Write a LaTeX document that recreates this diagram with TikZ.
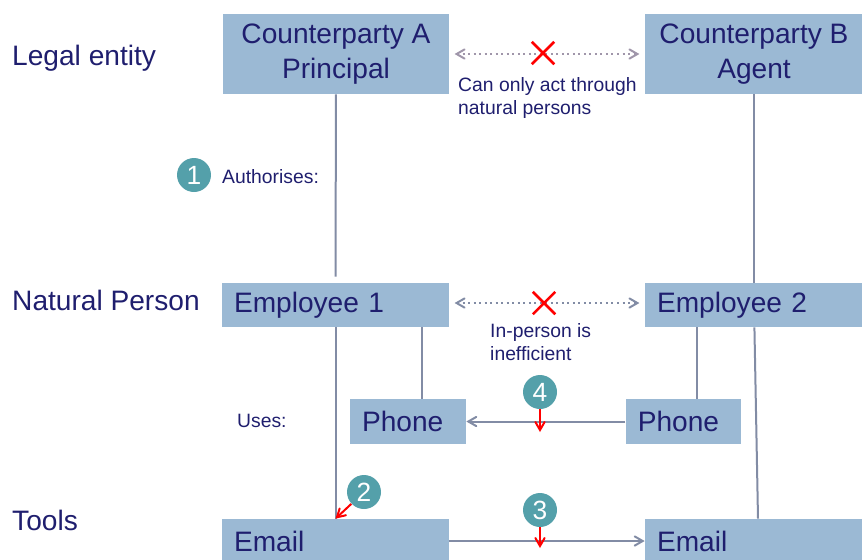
\documentclass[tikz,border=0pt]{standalone}
\usepackage{fontspec}
\setmainfont{Liberation Sans}
\usetikzlibrary{arrows,shapes,shapes.misc}

\definecolor{inkblue}{RGB}{31,30,110}
\definecolor{boxblue}{RGB}{155,185,212}
\definecolor{wire}{RGB}{130,140,165}
\definecolor{haze}{RGB}{160,150,170}
\definecolor{stepteal}{RGB}{84,160,170}

\begin{document}
\begin{tikzpicture}[>=angle 60,x=0.02cm,y=-0.02cm]

  \tikzstyle{party}=[rectangle,fill=boxblue,text=inkblue,inner sep=0,
    font=\fontsize{16}{19.5}\selectfont,align=center,
    minimum width=4.52cm,minimum height=1.6cm]

  \tikzstyle{tool}=[rectangle,fill=boxblue,text=inkblue,inner sep=0,
    inner xsep=0.24cm,font=\fontsize{16}{19}\selectfont,align=left,
    text width=4.06cm,minimum height=0.88cm]

  \tikzstyle{tier}=[anchor=west,text=inkblue,font=\fontsize{16}{19}\selectfont]
  \tikzstyle{note}=[text=inkblue,font=\fontsize{11}{13}\selectfont,align=left]

  \tikzstyle{stepnum}=[circle,fill=stepteal,text=white,inner sep=0,
    minimum size=0.68cm,font=\fontsize{15}{17}\selectfont]

  \tikzstyle{nogo}=[cross out,draw=red,line width=0.05cm,inner sep=0,
    minimum size=0.4cm]

  \useasboundingbox (0,0) rectangle (862,559);

  %% \draw [help lines,step=50] (0,0) grid (862,559);

  \node  (a)   at (336,54)   [party]  {Counterparty A\\Principal};
  \node  (b)   at (754,54)   [party,minimum width=4.36cm]
         {Counterparty B\\Agent};

  \node  (e1)  at (335.5,305) [tool]  {Employee 1};
  \node  (e2)  at (754,305)  [tool,text width=3.88cm] {Employee 2};

  \node  (pa)  at (408,421.5) [tool,text width=1.84cm,minimum height=0.9cm] {Phone};
  \node  (pb)  at (683.5,421.5) [tool,text width=1.83cm,minimum height=0.9cm] {Phone};

  \node  (ma)  at (335.5,541) [tool]  {Email};
  \node  (mb)  at (754,541)  [tool,text width=3.88cm] {Email};

  \node  (legal)   at (6,58)  [tier] {Legal entity};
  \node  (natural) at (6,300) [tier] {Natural Person};
  \node  (tools)   at (6,520) [tier] {Tools};

  \node  (auth)  at (216,177) [note,anchor=west] {Authorises:};
  \node  (uses)  at (231,421) [note,anchor=west] {Uses:};
  \node  (only)  at (452,98)  [note,anchor=west] {Can only act through\\natural persons};
  \node  (slow)  at (484,342) [note,anchor=west] {In-person is\\inefficient};

  \tikzstyle{link}=[color=wire,line width=0.04cm]
  \tikzstyle{msg}=[->,color=wire,line width=0.04cm]
  \tikzstyle{blocked}=[<->,line width=0.04cm,dotted]
  \tikzstyle{redmark}=[->,color=red,line width=0.04cm]

  \path (a)   edge [blocked,color=haze,shorten <=3pt,shorten >=3pt] (b)
              edge [link,shorten >=0.12cm] (e1)
        (b)   edge [link] (e2)
        ([yshift=0.04cm]e1.east) edge [blocked,color=wire,shorten <=3pt,shorten >=3pt]
              ([yshift=0.04cm]e2.west)
        (e1)  edge [link] (ma)
        ([xshift=0.27cm]pa.north |- e1.south) edge [link] ([xshift=0.27cm]pa.north)
        ([xshift=0.27cm]pb.north |- e2.south) edge [link] ([xshift=0.27cm]pb.north)
        (e2)  edge [link] ([xshift=0.08cm]mb.north)
        (pb)  edge [msg] (pa)
        (ma)  edge [msg] (mb);

  \node  (xa)  at (543,53)  [nogo] {};
  \node  (xe)  at (544,303) [nogo] {};

  \node  (c1)  at (194,175) [stepnum] {1};
  \node  (c2)  at (364,492) [stepnum] {2};
  \node  (c3)  at (540,510) [stepnum] {3};
  \node  (c4)  at (540,392) [stepnum] {4};

  \coordinate (t3) at (540,548);
  \coordinate (t4) at (540,432);

  \path (c2)  edge [redmark] (ma.north)
        (c3)  edge [redmark] (t3)
        (c4)  edge [redmark] (t4);

\end{tikzpicture}
\end{document}
